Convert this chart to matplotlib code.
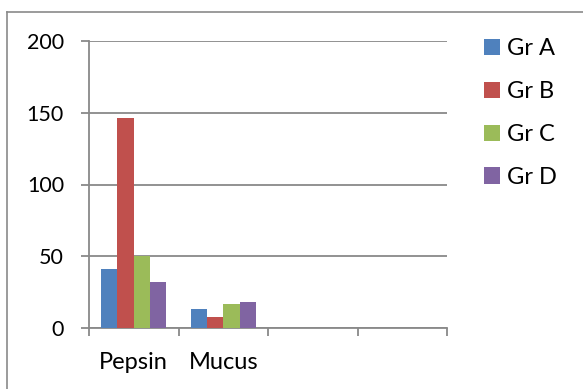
import matplotlib
matplotlib.use("Agg")
import matplotlib.pyplot as plt
from matplotlib.patches import Patch
from matplotlib.lines import Line2D
import numpy as np

categories = ["Pepsin", "Mucus", "", ""]
groups = ["Gr A", "Gr B", "Gr C", "Gr D"]
gr_a = [41, 13.5, 0, 0]
gr_b = [146, 7.5, 0, 0]
gr_c = [50, 17, 0, 0]
gr_d = [32, 18, 0, 0]
series = [gr_a, gr_b, gr_c, gr_d]
colors = ["#4F81BD", "#C0504D", "#9BBB59", "#8064A2"]
y_ticks = [0, 50, 100, 150, 200]

plt.rcParams["font.family"] = ["Lato", "DejaVu Sans"]

fig = plt.figure(figsize=(5.83, 3.89), dpi=100)
ax = fig.add_axes([89 / 583, 1 - 328 / 389, (447 - 89) / 583, (328 - 41) / 389])

grid_col = "#898989"
x = np.arange(len(categories))
bw = 0.182
for i, (vals, col, name) in enumerate(zip(series, colors, groups)):
    ax.bar(x + (i - 1.5) * bw, vals, width=bw, color=col, label=name,
           linewidth=0, zorder=3)

ax.set_xlim(-0.5, len(categories) - 0.5)
ax.set_ylim(0, 200)
ax.set_yticks(y_ticks)
ax.yaxis.grid(True, color=grid_col, linewidth=1.3, zorder=0)
ax.set_axisbelow(True)

# category boundaries carry the tick marks, labels sit at the centres
ax.set_xticks(np.arange(-0.5, len(categories), 1.0))
ax.set_xticklabels([])
ax.set_xticks(x, minor=True)
ax.set_xticklabels(categories, minor=True)
ax.tick_params(axis="x", which="major", length=6, width=1.3, color=grid_col)
ax.tick_params(axis="x", which="minor", length=0, pad=17, labelsize=17)
ax.tick_params(axis="y", length=6, width=1.3, color=grid_col, pad=12, labelsize=15.5)

for s in ["top", "right"]:
    ax.spines[s].set_visible(False)
for s in ["left", "bottom"]:
    ax.spines[s].set_color(grid_col)
    ax.spines[s].set_linewidth(1.3)

handles = [Patch(facecolor=c, edgecolor="none") for c in colors]
fig.legend(handles, groups, loc="upper left", bbox_to_anchor=(484 / 583, 1 - 38 / 389),
           frameon=False, fontsize=17, handlelength=0.68, handleheight=0.68,
           handletextpad=0.3, labelspacing=0.93, borderaxespad=0, borderpad=0)

# chart area frame
fig.add_artist(Line2D([7 / 583, 1.0], [1 - 11.5 / 389] * 2, color="#8a8a8a", linewidth=1.2,
                      transform=fig.transFigure))
fig.add_artist(Line2D([7 / 583] * 2, [0, 1 - 11.5 / 389], color="#8a8a8a", linewidth=1.2,
                      transform=fig.transFigure))

fig.savefig("out.png", dpi=100)
